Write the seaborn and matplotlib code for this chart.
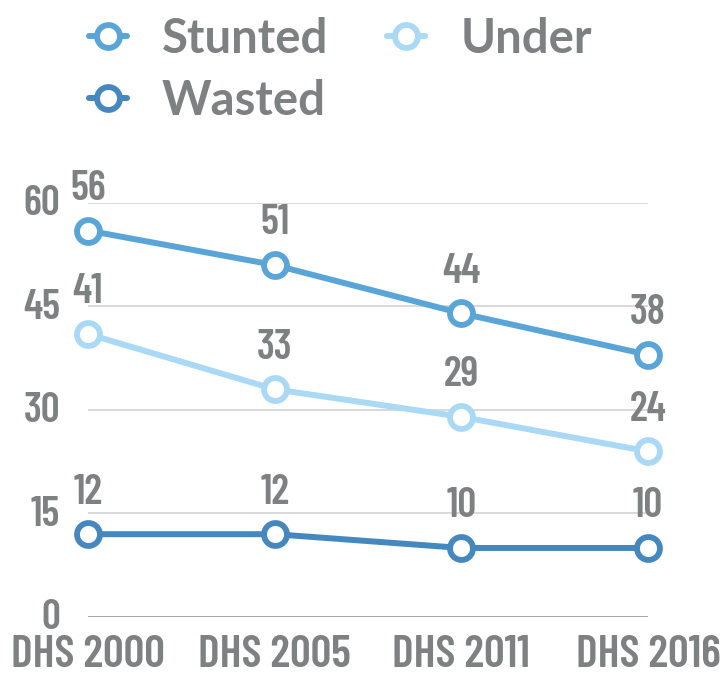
import matplotlib
matplotlib.use("Agg")
import matplotlib.pyplot as plt
import matplotlib.transforms as mtransforms
import pandas as pd
import seaborn as sns

surveys = ["DHS 2000", "DHS 2005", "DHS 2011", "DHS 2016"]
stunted = [56, 51, 44, 38]
under = [41, 33, 29, 24]
wasted = [12, 12, 10, 10]
yticks = [0, 15, 30, 45, 60]

series = [
    ("Stunted", stunted, "#5aa5d8"),
    ("Under", under, "#a9d9f4"),
    ("Wasted", wasted, "#4588bf"),
]

sns.set_theme(style="white")
plt.rcParams["font.family"] = ["Barlow Condensed", "Liberation Sans Narrow", "DejaVu Sans"]
grey = "#7d8182"

fig = plt.figure(figsize=(7.24, 6.81), dpi=100)
ax = fig.add_axes([0.1215, 0.094, 0.7735, 0.608])

handles = {}
for name, vals, col in series:
    df = pd.DataFrame({"survey": surveys, "value": vals})
    sns.lineplot(data=df, x="survey", y="value", ax=ax, color=col, lw=4.3,
                 marker="o", markersize=16.5, markerfacecolor="white",
                 markeredgecolor=col, markeredgewidth=4.2, clip_on=False,
                 zorder=3)
    handles[name] = ax.lines[-1]
    for i, v in enumerate(vals):
        ax.annotate(str(v), (i, v), xytext=(0, 30), textcoords="offset points",
                    ha="center", va="center", fontsize=30, fontweight=600,
                    color=grey)

ax.set_xlim(0, 3)
ax.set_ylim(0, 60)
ax.set_yticks(yticks)
ax.set_xlabel("")
ax.set_ylabel("")
for s in ax.spines.values():
    s.set_visible(False)
ax.grid(axis="y", color="#d9d9d9", lw=1.4)
ax.grid(axis="x", visible=False)
ax.axhline(0, color="#a6a6a6", lw=1.4, zorder=1)
ax.tick_params(axis="y", length=0, pad=20, labelsize=30, labelcolor=grey)
ax.tick_params(axis="x", length=0, pad=13, labelsize=33, labelcolor=grey)
for lab in ax.get_xticklabels() + ax.get_yticklabels():
    lab.set_fontweight(600)
# y labels sit a little above their gridlines
off = mtransforms.ScaledTranslation(0, 2 / 72, fig.dpi_scale_trans)
for lab in ax.get_yticklabels():
    lab.set_transform(lab.get_transform() + off)

order = ["Stunted", "Wasted", "Under"]
fig.legend([handles[n] for n in order], order, loc="upper left",
           bbox_to_anchor=(0.09, 1.01), ncol=2, frameon=False,
           prop={"family": "Lato", "weight": "bold", "size": 34},
           labelcolor=grey, handlelength=0.8, handletextpad=0.75,
           columnspacing=1.25, labelspacing=0.38, borderaxespad=0.1)

fig.savefig("out.png", dpi=100)
